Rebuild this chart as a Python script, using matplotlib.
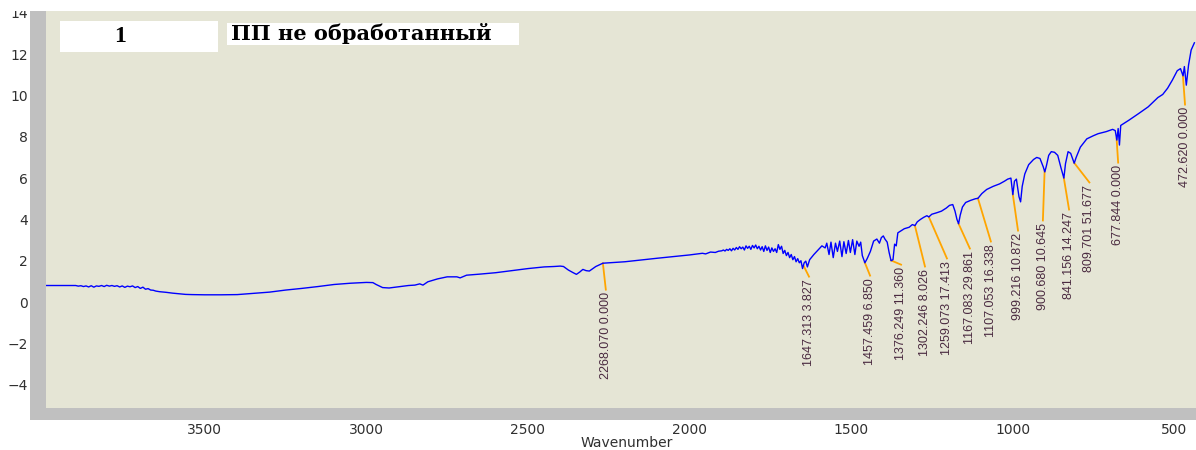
import numpy as np
import matplotlib
matplotlib.use("Agg")
import matplotlib.pyplot as plt
from matplotlib.patches import Rectangle
from matplotlib.transforms import Bbox

# IR spectrum
wavenumber = [
    3992, 3950, 3910, 3900, 3892, 3884, 3876, 3868, 3860, 3852, 3844, 3836,
    3828, 3820, 3812, 3804, 3796, 3788, 3780, 3772, 3764, 3756, 3748, 3740,
    3732, 3724, 3716, 3708, 3700, 3692, 3684, 3676, 3668, 3660, 3652, 3640,
    3620, 3600, 3580, 3560, 3540, 3500, 3450, 3400, 3350, 3300, 3250, 3200,
    3150, 3100, 3050, 3000, 2980, 2970, 2950, 2930, 2900, 2870, 2850, 2835,
    2825, 2810, 2780, 2750, 2720, 2710, 2690, 2650, 2600, 2550, 2500, 2450,
    2420, 2400, 2390, 2375, 2360, 2350, 2340, 2330, 2320, 2310, 2290, 2268,
    2200, 2100, 2000, 1960, 1950, 1935, 1920, 1910,
    1900, 1895, 1890, 1885, 1880, 1875, 1870, 1865, 1860, 1855, 1850, 1845,
    1840, 1835, 1830, 1825, 1820, 1815, 1810, 1805, 1800, 1795, 1790, 1785,
    1780, 1775, 1770, 1765, 1760, 1755, 1750, 1745, 1740, 1735, 1730, 1725,
    1720, 1715, 1710, 1705, 1700, 1695, 1690, 1685, 1680, 1675, 1670, 1665,
    1660, 1655, 1650, 1645, 1640, 1635, 1628, 1615, 1600, 1590, 1580, 1575,
    1568, 1562, 1555, 1548, 1542, 1535, 1528, 1522, 1515, 1508, 1502, 1495,
    1488, 1482, 1475, 1470, 1465, 1457, 1450, 1440, 1430, 1420, 1412, 1406,
    1400, 1395, 1388, 1382, 1376, 1370, 1365, 1360, 1355, 1345, 1335,
    1320, 1310, 1302, 1295, 1285, 1275, 1265, 1259, 1250, 1235, 1220, 1205,
    1195, 1185, 1178, 1172, 1167, 1162, 1155, 1145, 1130, 1115, 1107, 1095,
    1080, 1060, 1040, 1025, 1015, 1005, 999, 994, 988, 980, 975, 970, 962,
    950, 935, 925, 915, 905, 900, 895, 888, 880, 870, 860, 850, 841, 836,
    828, 820, 809, 803, 790, 770, 750, 735, 710, 690, 682, 677, 673, 669,
    665, 640, 610, 580, 550, 535, 520, 505, 490, 480, 472, 468, 462, 455,
    447, 437,
]
absorbance = [
    0.80, 0.80, 0.80, 0.80, 0.77, 0.79, 0.75, 0.78, 0.73, 0.79, 0.72, 0.78,
    0.76, 0.80, 0.75, 0.81, 0.77, 0.80, 0.76, 0.79, 0.73, 0.78, 0.71, 0.77,
    0.74, 0.78, 0.70, 0.75, 0.66, 0.72, 0.62, 0.65, 0.58, 0.57, 0.53, 0.50,
    0.47, 0.43, 0.40, 0.37, 0.36, 0.35, 0.35, 0.36, 0.42, 0.48, 0.58, 0.66,
    0.75, 0.85, 0.91, 0.95, 0.94, 0.85, 0.70, 0.68, 0.74, 0.80, 0.82, 0.88,
    0.82, 0.98, 1.12, 1.22, 1.22, 1.17, 1.30, 1.35, 1.42, 1.52, 1.62, 1.70,
    1.72, 1.74, 1.72, 1.55, 1.42, 1.34, 1.45, 1.58, 1.52, 1.50, 1.72, 1.88,
    1.95, 2.12, 2.28, 2.36, 2.33, 2.42, 2.40, 2.46,
    2.48, 2.52, 2.47, 2.55, 2.50, 2.58, 2.48, 2.60, 2.52, 2.64, 2.55, 2.68,
    2.58, 2.66, 2.52, 2.72, 2.60, 2.70, 2.55, 2.74, 2.62, 2.76, 2.58, 2.70,
    2.52, 2.68, 2.45, 2.72, 2.50, 2.66, 2.40, 2.62, 2.45, 2.58, 2.40, 2.78,
    2.55, 2.70, 2.35, 2.50, 2.25, 2.40, 2.15, 2.30, 2.05, 2.20, 1.95, 2.10,
    1.90, 2.00, 1.62, 1.90, 1.98, 1.70, 2.05, 2.30, 2.55, 2.72, 2.62, 2.85,
    2.30, 2.90, 2.15, 2.85, 2.45, 2.95, 2.20, 2.92, 2.35, 2.98, 2.40, 3.02,
    2.30, 2.95, 2.70, 2.90, 2.25, 1.90, 2.10, 2.45, 2.95, 3.05, 2.85, 3.12,
    3.20, 3.05, 2.90, 2.40, 2.00, 2.05, 2.80, 2.72, 3.35, 3.45, 3.55,
    3.62, 3.75, 3.70, 3.88, 4.00, 4.10, 4.18, 4.12, 4.25, 4.32, 4.40, 4.55,
    4.68, 4.72, 4.40, 4.00, 3.79, 4.20, 4.60, 4.82, 4.92, 5.00, 5.02, 5.25,
    5.45, 5.60, 5.72, 5.85, 5.95, 6.00, 5.20, 5.85, 5.95, 5.10, 4.85, 5.60, 6.20,
    6.65, 6.90, 7.00, 6.95, 6.55, 6.30, 6.60, 7.10, 7.28, 7.25, 7.10, 6.50, 6.00, 6.70,
    7.28, 7.20, 6.72, 7.00, 7.50, 7.90, 8.05, 8.15, 8.25, 8.36, 8.30, 7.84, 8.40, 7.60,
    8.55, 8.80, 9.12, 9.45, 9.90, 10.05, 10.35, 10.75, 11.20, 11.30, 10.95, 11.40, 10.50, 11.48,
    12.20, 12.55,
]

# peak picks: position and value as printed on the chart
peak_wn = [2268.070, 1647.313, 1457.459, 1376.249, 1302.246, 1259.073, 1167.083,
           1107.053, 999.216, 900.680, 841.156, 809.701, 677.844, 472.620]
peak_val = [0.000, 3.827, 6.850, 11.360, 8.026, 17.413, 29.861,
            16.338, 10.872, 10.645, 14.247, 51.677, 0.000, 0.000]
# where each pick label sits (wavenumber of label centre, top of label)
label_x = [2259, 1630, 1441, 1345, 1271, 1203, 1132, 1067, 983, 906, 825, 762, 673, 466]
label_top = [0.48, 1.11, 1.16, 1.69, 1.60, 1.99, 2.47, 2.81, 3.34, 3.83, 4.36, 5.67, 6.63, 9.44]

x_ticks = [3500, 3000, 2500, 2000, 1500, 1000, 500]
y_ticks = [-4, -2, 0, 2, 4, 6, 8, 10, 12, 14]

W, H = 1196, 450
fig = plt.figure(figsize=(W / 100, H / 100), dpi=100)
fig.patch.set_facecolor("white")

# left/bottom grey frame like the spectrometer software
fig.patches.append(Rectangle((30 / W, 1 - 420 / H), 16 / W, 409 / H,
                             transform=fig.transFigure, facecolor="#c0c0c0",
                             edgecolor="none", zorder=0))
fig.patches.append(Rectangle((30 / W, 1 - 420 / H), 1 - 30 / W, 12 / H,
                             transform=fig.transFigure, facecolor="#c0c0c0",
                             edgecolor="none", zorder=0))
# white boxes behind the sample name
fig.patches.append(Rectangle((60 / W, 1 - 52 / H), 158 / W, 31 / H,
                             transform=fig.transFigure, facecolor="white",
                             edgecolor="none", zorder=5))
fig.patches.append(Rectangle((227 / W, 1 - 45 / H), 292 / W, 22 / H,
                             transform=fig.transFigure, facecolor="white",
                             edgecolor="none", zorder=5))

ax = fig.add_axes([46 / W, 1 - 408 / H, 1 - 46 / W, 397 / H])
ax.set_facecolor("#e5e5d5")
for s in ax.spines.values():
    s.set_visible(False)

ax.plot(wavenumber, absorbance, color="#0000ff", lw=1.0, zorder=3)

wn_sorted = np.array(wavenumber[::-1])
ab_sorted = np.array(absorbance[::-1])
for pw, pv, lx, lt in zip(peak_wn, peak_val, label_x, label_top):
    y0 = np.interp(pw, wn_sorted, ab_sorted)
    ax.plot([pw, lx], [y0, lt + 0.12], color="#ffa500", lw=1.3, zorder=2)
    ax.text(lx, lt, f"{pw:.3f} {pv:.3f}", rotation=90, ha="center", va="top",
            fontsize=9, color="#4a2a40", family="Liberation Sans", zorder=4)

ax.set_xlim(3992, 432)
ax.set_ylim(-5.13, 14.09)
ax.set_xticks(x_ticks)
ax.set_yticks(y_ticks)
ax.tick_params(length=0, labelsize=10, labelcolor="#303030")
ax.tick_params(axis="y", pad=13)
ax.tick_params(axis="x", pad=11)
ax.set_xlabel("Wavenumber", fontsize=10, color="#303030", labelpad=0)
ax.xaxis.set_label_coords(0.505, -0.07)

# the top tick label is cut by the chart's top edge
clip = Bbox.from_extents(0, 0, W, H - 11)
for lab in ax.get_yticklabels():
    lab.set_clip_box(clip)
    lab.set_clip_on(True)

# sample name in the top-left corner
fig.text(120 / W, 1 - 37 / H, "1", ha="center", va="center",
         fontsize=17, fontweight="bold", family="Liberation Serif", zorder=6)
fig.text(231 / W, 1 - 34 / H, "ПП не обработанный", ha="left", va="center",
         fontsize=15, fontweight="bold", family="DejaVu Serif", zorder=6)

fig.savefig("out.png", dpi=100, facecolor="white")
